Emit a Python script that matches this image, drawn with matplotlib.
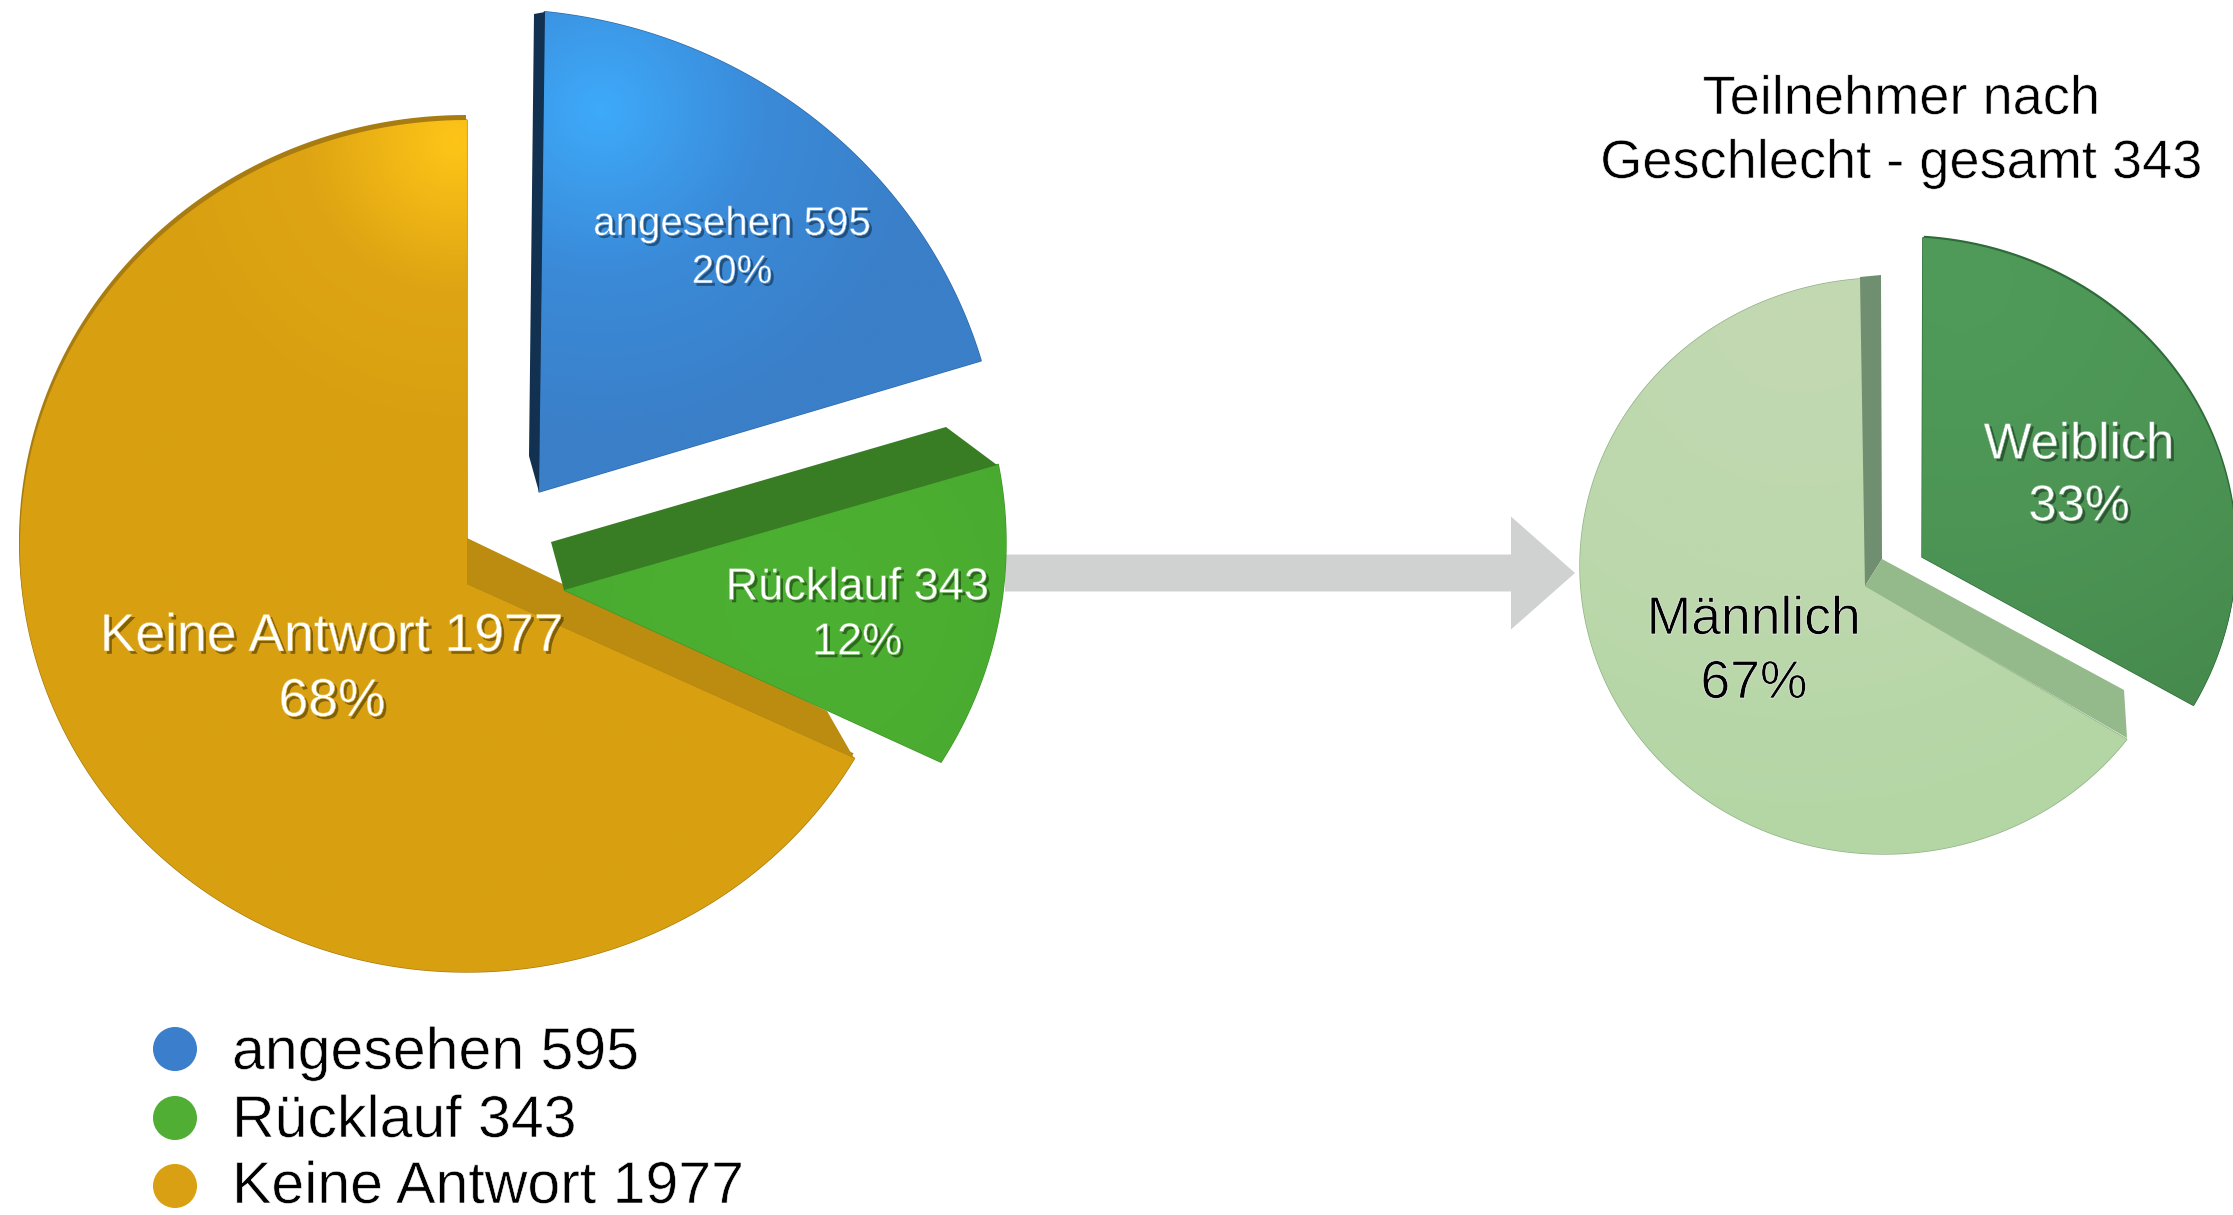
# -*- coding: utf-8 -*-
"""Zwei gestaffelte Tortendiagramme: Umfragerücklauf und Teilnehmer nach Geschlecht."""
import matplotlib
matplotlib.use("Agg")
import matplotlib.patheffects as pe
import matplotlib.pyplot as plt
import numpy as np
from matplotlib.colors import LinearSegmentedColormap
from matplotlib.patches import Polygon
from matplotlib.path import Path

# daten
ruecklauf_namen = ["angesehen", "Rücklauf", "Keine Antwort"]
ruecklauf_werte = [595, 343, 1977]
ruecklauf_prozent = ["20%", "12%", "68%"]
geschlecht_namen = ["Weiblich", "Männlich"]
geschlecht_werte = [33, 67]
geschlecht_prozent = ["33%", "67%"]
titel = ["Teilnehmer nach", "Geschlecht - gesamt 343"]

W, H = 2233, 1215
plt.rcParams.update({"font.family": ["Liberation Sans", "DejaVu Sans"]})

# perspektive je stück: mitte x/y, rx, ry, spitze, winkelfaktor, drehung
LINKS = [
    dict(c=(491, 495), r=(510, 486), apex=(539, 492), k=0.925, rot=0.75, z=3,
         farben=("#3eaafa", "#3a8ad8", "#3a7fc8"), hl=(600, 110), spread=330,
         rand="#2f6aa8", kante=None,
         wand=[((534, 14), (545, 12), (539, 492), (529, 456), "#12304f")]),
    dict(c=(566, 543), r=(440, 419), apex=(564, 590), k=1.0, rot=-5.7, z=3,
         farben=("#4cb032", "#4bae31", "#47a82f"), hl=(800, 600), spread=300,
         rand="#3f962a", kante=None,
         wand=[((551, 542), (946, 427), (997, 465), (564, 590), "#387d24")]),
    dict(c=(467, 546), r=(447, 426), apex=(467, 584), k=0.9834, rot=-4.48, z=2,
         farben=("#fec518", "#dea413", "#d8a011"), hl=(455, 140), spread=300,
         rand="#a87c10", kante=(-1, -5),
         wand=[((467, 538), (827, 711), (854, 758), (467, 584), "#bb8c10")]),
]
RECHTS = [
    dict(c=(1900, 552), r=(336, 315), apex=(1922, 557), k=0.97, rot=-1.2, z=3,
         farben=("#509b5a", "#4c9555", "#468a4d"), hl=(1960, 280), spread=500,
         rand="#2f6b3a", kante=(1, -2), wand=[]),
    dict(c=(1884, 566), r=(304, 288), apex=(1865, 586), k=0.95, rot=-9.64, z=2,
         farben=("#c3d8b2", "#bdd8ad", "#b3d6a4"), hl=(1800, 300), spread=560,
         rand="#8fb086", kante=None,
         wand=[((1860, 277), (1881, 275), (1882, 559), (1865, 586), "#6f8f70"),
               ((1882, 559), (2124, 690), (2127, 738), (1865, 586), "#94b98a")]),
]


def stueck_pfad(theta1, theta2, s):
    # rand als ellipse, spitze liegt durch die perspektive nicht in der mitte
    t = np.radians(s["rot"] + s["k"] * np.linspace(theta1, theta2, 180))
    x = s["c"][0] + s["r"][0] * np.cos(t)
    y = s["c"][1] - s["r"][1] * np.sin(t)
    pts = np.vstack([[s["apex"]], np.column_stack([x, y]), [s["apex"]]])
    return Path(pts, closed=True)


def torte(ax, werte, stile):
    wedges, _ = ax.pie(werte, startangle=90, counterclock=False, frame=True,
                       colors=[s["farben"][2] for s in stile])
    for w, s in zip(wedges, stile):
        pfad = stueck_pfad(w.theta1, w.theta2, s)
        w._path = pfad
        w.set_zorder(s["z"])
        w.set_edgecolor(s["rand"])
        w.set_linewidth(1.0)
        if s["kante"] is not None:
            # dunkle oberkante der scheibe
            ax.add_patch(Polygon(pfad.vertices + np.array(s["kante"]), closed=True,
                                 facecolor=s["rand"], edgecolor="none",
                                 zorder=s["z"] - 0.1))
        x0, y0 = pfad.vertices.min(axis=0)
        x1, y1 = pfad.vertices.max(axis=0)
        gx, gy = np.meshgrid(np.linspace(x0, x1, 300), np.linspace(y0, y1, 300))
        d = np.clip(np.hypot(gx - s["hl"][0], gy - s["hl"][1]) / s["spread"], 0, 1)
        cmap = LinearSegmentedColormap.from_list("v", s["farben"])
        im = ax.imshow(d, cmap=cmap, vmin=0, vmax=1, extent=(x0, x1, y1, y0),
                       zorder=s["z"] + 0.1, interpolation="bilinear")
        im.set_clip_path(w)
        for *ecken, farbe in s["wand"]:
            ax.add_patch(Polygon(ecken, closed=True, facecolor=farbe,
                                 edgecolor="none", zorder=s["z"] + 0.2))


def schrift(ax, x, y, txt, size, grund=None):
    # original ist Helvetica Light: kontur in hintergrundfarbe macht die striche duenner
    if grund is None:
        farbe = "black"
        effekte = [pe.Stroke(linewidth=0.45, foreground="white")]
    else:
        farbe = "white"
        effekte = [pe.withSimplePatchShadow(offset=(2, -2), shadow_rgbFace="black",
                                            alpha=0.4),
                   pe.Stroke(linewidth=0.4, foreground=grund)]
    ax.text(x, y, txt, fontsize=size, color=farbe, ha="center", va="center",
            zorder=10, path_effects=effekte)


fig = plt.figure(figsize=(W / 100, H / 100), dpi=100, facecolor="white")
ax = fig.add_axes([0, 0, 1, 1])

ax.arrow(1005, 573, 570, 0, width=37, head_width=113, head_length=64,
         length_includes_head=True, color="#d0d2d1", linewidth=0, zorder=1)
torte(ax, ruecklauf_werte, LINKS)
torte(ax, geschlecht_werte, RECHTS)

schrift(ax, 732, 224, f"{ruecklauf_namen[0]} {ruecklauf_werte[0]}", 29, "#3a8ad8")
schrift(ax, 732, 272, ruecklauf_prozent[0], 29, "#3a8ad8")
schrift(ax, 857, 588, f"{ruecklauf_namen[1]} {ruecklauf_werte[1]}", 32.5, "#4bae31")
schrift(ax, 857, 643, ruecklauf_prozent[1], 32.5, "#4bae31")
schrift(ax, 332, 637, f"{ruecklauf_namen[2]} {ruecklauf_werte[2]}", 38.5, "#d8a011")
schrift(ax, 332, 702, ruecklauf_prozent[2], 38.5, "#d8a011")
schrift(ax, 2079, 445, geschlecht_namen[0], 36.5, "#4c9555")
schrift(ax, 2079, 507, geschlecht_prozent[0], 36.5, "#4c9555")
schrift(ax, 1754, 620, geschlecht_namen[1], 38.5)
schrift(ax, 1754, 684, geschlecht_prozent[1], 38.5)
schrift(ax, 1901, 100, titel[0], 39)
schrift(ax, 1901, 164, titel[1], 39)

# legende
leg_y = [1049, 1118, 1186]
leg_base = [1069, 1137, 1203]
leg_farben = ["#3b7ecb", "#4fae33", "#d9a013"]
ax.scatter([175] * 3, leg_y, s=1005, c=leg_farben, linewidths=0, zorder=5)
for name, wert, y in zip(ruecklauf_namen, ruecklauf_werte, leg_base):
    ax.text(232, y, f"{name} {wert}", fontsize=42.5, color="black", va="baseline",
            zorder=5, path_effects=[pe.Stroke(linewidth=0.45, foreground="white")])

ax.set_xlim(0, W)
ax.set_ylim(H, 0)
ax.set_aspect("auto")
ax.axis("off")
fig.savefig("out.png", dpi=100, facecolor="white")
plt.close(fig)
